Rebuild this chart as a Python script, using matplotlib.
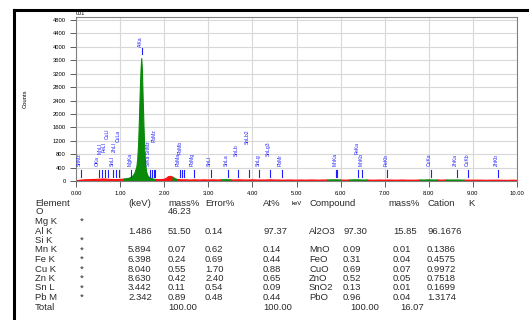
import matplotlib.pyplot as plt
from matplotlib.lines import Line2D
import numpy as np

plt.rcParams['font.family'] = ['Liberation Sans', 'DejaVu Sans']

# spectrum (keV, counts)
energy = [0.0, 0.1, 0.2, 0.3, 0.4, 0.5, 0.6, 0.7, 0.8, 0.9, 1.0, 1.1, 1.2,
          1.25, 1.30, 1.34, 1.38, 1.40, 1.42, 1.44, 1.46, 1.475, 1.49, 1.505,
          1.52, 1.54, 1.56, 1.58, 1.60, 1.63, 1.66, 1.70, 1.75, 1.8, 1.9,
          2.0, 2.05, 2.1, 2.15, 2.2, 2.25, 2.3, 2.4, 2.5, 2.6, 2.7, 2.8, 2.9,
          3.0, 3.1, 3.2, 3.3, 3.4, 3.5, 3.6, 3.7, 3.8, 3.9, 4.0, 4.1, 4.2,
          4.3, 4.4, 4.5, 4.6, 4.7, 4.8, 4.9, 5.0, 5.1, 5.2, 5.3, 5.4, 5.5,
          5.6, 5.7, 5.8, 5.9, 6.0, 6.1, 6.2, 6.3, 6.4, 6.5, 6.6, 6.7, 6.8,
          6.9, 7.0, 7.1, 7.2, 7.3, 7.4, 7.5, 7.6, 7.7, 7.8, 7.9, 8.0, 8.1,
          8.2, 8.3, 8.4, 8.5, 8.6, 8.7, 8.8, 8.9, 9.0, 9.1, 9.2, 9.3, 9.4,
          9.5, 9.6, 9.7, 9.8, 9.9, 10.0]
counts = [5, 25, 35, 40, 45, 50, 60, 55, 45, 40, 45, 60, 80,
          110, 160, 250, 420, 650, 1100, 1900, 2800, 3300, 3650, 3350,
          2600, 1700, 950, 500, 280, 160, 110, 80, 60, 45, 40,
          50, 80, 130, 140, 110, 70, 45, 35, 35, 30, 35, 30, 35,
          30, 35, 30, 35, 40, 35, 30, 35, 30, 30, 35, 30, 30,
          30, 35, 30, 30, 25, 30, 30, 25, 30, 25, 30, 30, 25,
          30, 30, 35, 35, 30, 25, 30, 35, 35, 30, 30, 25, 25,
          30, 25, 30, 25, 25, 30, 25, 25, 25, 30, 30, 35, 30,
          30, 25, 30, 30, 30, 30, 25, 25, 25, 25, 25, 20, 25,
          25, 25, 20, 20, 25, 20]

# regions of interest drawn in green
roi = [(1.1, 1.8), (2.2, 2.3), (3.3, 3.5), (5.7, 6.0),
       (6.2, 6.6), (7.8, 8.2), (8.4, 8.8)]

# line markers: energy, name, marker bottom, label bottom
line_kev = [0.11, 0.52, 0.58, 0.66, 0.73, 0.85, 0.91, 0.98, 1.25, 1.49,
            1.68, 1.72, 1.76, 1.80, 2.35, 2.40, 2.45, 2.67, 3.05, 3.44,
            3.67, 3.92, 4.16, 4.39, 4.67, 5.90, 5.92, 6.40, 6.49, 7.06,
            8.04, 8.63, 8.90, 9.57]
line_name = ['SnMz', 'OKa', 'MnLl', 'FeLl', 'CuLl', 'SnLl', 'ZnLl', 'CuLa',
             'MgKa', 'AlKa', 'SiKa SnMz', '', '', 'PbMz', 'PbMa', 'PbMb',
             '', 'PbMg', 'SnLl', 'SnLa', 'SnLb', 'SnLb2', 'SnLg', 'SnLg3',
             'PbMr', 'MnKa', '', 'FeKa', 'MnKb', 'FeKb', 'CuKa', 'ZnKa',
             'CuKb', 'ZnKb']
marker_bottom = [120] * 34
marker_bottom[9] = 3780
label_bottom = [450, 450, 800, 850, 1250, 450, 850, 1150, 450, 4000,
                450, 450, 450, 1150, 450, 800, 450, 450, 450, 450,
                750, 1100, 450, 750, 450, 450, 450, 800, 450, 450,
                450, 450, 450, 450]

# quantification table
elements = ['O', 'Mg K', 'Al K', 'Si K', 'Mn K', 'Fe K', 'Cu K', 'Zn K', 'Sn L', 'Pb M']
stars = ['', '*', '', '*', '*', '*', '*', '*', '*', '*']
kev = ['', '', '1.486', '', '5.894', '6.398', '8.040', '8.630', '3.442', '2.342']
mass = ['46.23', '', '51.50', '', '0.07', '0.24', '0.55', '0.42', '0.11', '0.89']
error = ['', '', '0.14', '', '0.62', '0.69', '1.70', '2.40', '0.54', '0.48']
atom = ['', '', '97.37', '', '0.14', '0.44', '0.88', '0.65', '0.09', '0.44']
compound = ['', '', 'Al2O3', '', 'MnO', 'FeO', 'CuO', 'ZnO', 'SnO2', 'PbO']
cmass = ['', '', '97.30', '', '0.09', '0.31', '0.69', '0.52', '0.13', '0.96']
cation = ['', '', '15.85', '', '0.01', '0.04', '0.07', '0.05', '0.01', '0.04']
kval = ['', '', '96.1676', '', '0.1386', '0.4575', '0.9972', '0.7518', '0.1699', '1.3174']
headers = ['Element', '(keV)', 'mass%', 'Error%', 'At%', 'Compound', 'mass%', 'Cation', 'K']

W, H = 529, 320
fig = plt.figure(figsize=(W / 100, H / 100), dpi=100)
ax = fig.add_axes([76 / W, 1 - 181 / H, (517 - 76) / W, (181 - 17) / H])

e = np.array(energy)
c = np.array(counts)
in_roi = np.zeros(len(e), dtype=bool)
for lo, hi in roi:
    in_roi |= (e >= lo) & (e <= hi)
# red outside the ROIs, widened by one point so the trace stays continuous
red = ~in_roi
red[1:] |= ~in_roi[:-1]
red[:-1] |= ~in_roi[1:]
ax.fill_between(e, c, where=red, color='#ff1010', lw=0.8)
ax.fill_between(e, c, where=in_roi, color='#0a8a0a', lw=0.8)

for k, name, mb, lb in zip(line_kev, line_name, marker_bottom, label_bottom):
    ax.plot([k, k], [mb, mb + 200], color='#1f1fff', lw=0.8)
    if name:
        ax.text(k - 0.03, lb, name, rotation=90, ha='center', va='bottom',
                fontsize=3.6, color='#1f1fff')

ax.set_xlim(0, 10)
ax.set_ylim(0, 4890)
ax.set_xticks(np.arange(0, 11, 1))
ax.set_xticklabels(['%.2f' % v for v in range(11)])
ax.set_yticks(np.arange(0, 4801, 400))
ax.tick_params(labelsize=4.2, length=4, width=0.6, color='#444444')
ax.grid(True, color='#d8d8d8', lw=0.8)
ax.set_axisbelow(True)
for s in ax.spines.values():
    s.set_color('#808080')
    s.set_linewidth(0.8)
ax.set_xlabel('keV', fontsize=4.2, labelpad=3)
ax.set_ylabel('Counts', fontsize=4.2, labelpad=18)
ax.text(0.0, 1.005, '001', transform=ax.transAxes, fontsize=4, va='bottom')

# black border top and left
fig.add_artist(Line2D([14 / W, 14 / W], [0, 1 - 10 / H], color='black', lw=2.2))
fig.add_artist(Line2D([14 / W, 1], [1 - 10 / H, 1 - 10 / H], color='black', lw=2.2))

# table
tcol = '#2a2a2a'
fs = 6.8
def put(x, y, s):
    fig.text(x / W, 1 - y / H, s, fontsize=fs, color=tcol, va='center', ha='left')

hx = [35, 128, 168, 205, 263, 309, 388, 427, 468]
for x, s in zip(hx, headers):
    put(x, 203, s)
rows_y = [212, 221.5, 231, 240.5, 250, 259.5, 269, 278.5, 288, 297.5]
for i, y in enumerate(rows_y):
    put(35, y, elements[i])
    if stars[i]:
        put(80, y, stars[i])
    put(128, y, kev[i])
    put(168, y, mass[i])
    put(205, y, error[i])
    put(263, y, atom[i])
    put(309, y, compound[i])
    put(343, y, cmass[i])
    put(393, y, cation[i])
    put(427, y, kval[i])
put(35, 307, 'Total')
put(168, 307, '100.00')
put(263, 307, '100.00')
put(350, 307, '100.00')
put(400, 307, '16.07')

fig.savefig('out.png', dpi=100)
